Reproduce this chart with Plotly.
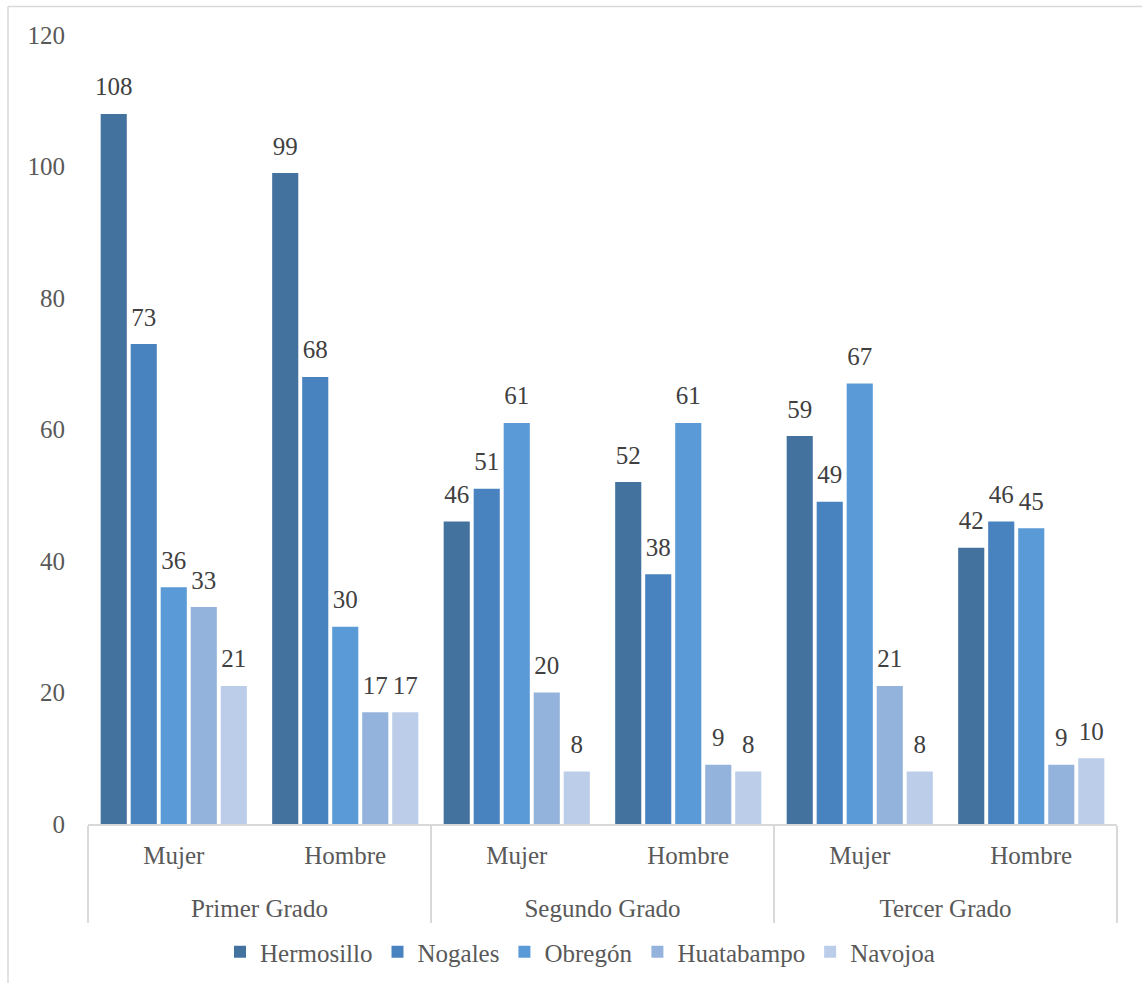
import plotly.graph_objects as go

# Grade / sex categories (outer level carries a leading line break to sit lower)
grados = ["<br>Primer Grado", "<br>Primer Grado", "<br>Segundo Grado", "<br>Segundo Grado",
          "<br>Tercer Grado", "<br>Tercer Grado"]
sexos = ["Mujer", "Hombre", "Mujer", "Hombre", "Mujer", "Hombre"]

# Counts per campus
hermosillo = [108, 99, 46, 52, 59, 42]
nogales = [73, 68, 51, 38, 49, 46]
obregon = [36, 30, 61, 61, 67, 45]
huatabampo = [33, 17, 20, 9, 21, 9]
navojoa = [21, 17, 8, 8, 8, 10]

series_names = ["Hermosillo", "Nogales", "Obregón", "Huatabampo", "Navojoa"]
series_values = [hermosillo, nogales, obregon, huatabampo, navojoa]
colors = ["#44729f", "#4883c0", "#5a9ad6", "#94b3dc", "#bccde9"]

W, H = 1142, 983
ML, MR, MT, MB = 88, 25, 35, 159
PW, PH = W - ML - MR, H - MT - MB

FONT = "Liberation Serif, Times New Roman, serif"
FS = 25
GAP = 0.125

fig = go.Figure()
x = [grados, sexos]

for name, vals, col in zip(series_names, series_values, colors):
    fig.add_trace(go.Bar(
        name=name, x=x, y=vals, marker_color=col, marker_line_width=0,
        offsetgroup=name, alignmentgroup="g",
    ))

# value labels, grouped the same way as the bars
for name, vals in zip(series_names, series_values):
    fig.add_trace(go.Scatter(
        x=x, y=vals, mode="markers+text", text=[str(v) for v in vals],
        textposition="top center", showlegend=False, hoverinfo="skip",
        orientation="v", offsetgroup=name, alignmentgroup="g",
        marker=dict(size=18, color="rgba(0,0,0,0)"),
        textfont=dict(family=FONT, size=FS, color="#404040"),
        cliponaxis=False,
    ))

# outer chart frame
fig.add_shape(type="line", xref="paper", yref="paper",
              x0=(8 - ML) / PW, x1=(W + 5 - ML) / PW,
              y0=(H - MB - 6.5) / PH, y1=(H - MB - 6.5) / PH,
              line=dict(color="#d9d9d9", width=1.5))
fig.add_shape(type="line", xref="paper", yref="paper",
              x0=(8 - ML) / PW, x1=(8 - ML) / PW,
              y0=(H - MB - 6.5) / PH, y1=(H - MB - H - 5) / PH,
              line=dict(color="#d9d9d9", width=1.5))

fig.update_layout(
    width=W, height=H,
    margin=dict(l=ML, r=MR, t=MT, b=MB, autoexpand=False),
    paper_bgcolor="white", plot_bgcolor="white",
    barmode="group", bargap=GAP, bargroupgap=0.13,
    scattermode="group", scattergap=GAP,
    font=dict(family=FONT, size=FS, color="#595959"),
    showlegend=True,
    legend=dict(orientation="h", x=(580 - ML) / PW, xanchor="center",
                y=-128 / PH, yanchor="middle",
                font=dict(family=FONT, size=FS, color="#595959"),
                itemwidth=30, tracegroupgap=0),
    xaxis=dict(type="multicategory", showline=True, linecolor="#d9d9d9", linewidth=1.5,
               showdividers=True, dividercolor="#d9d9d9", dividerwidth=1.5,
               ticks="", ticklabelstandoff=8,
               tickfont=dict(family=FONT, size=FS, color="#595959"),
               showgrid=False, zeroline=False),
    yaxis=dict(range=[0, 120], dtick=20, showgrid=False, zeroline=False,
               showline=False, ticks="", ticklabelstandoff=22,
               tickfont=dict(family=FONT, size=FS, color="#595959")),
)

fig.write_html("out.html")
